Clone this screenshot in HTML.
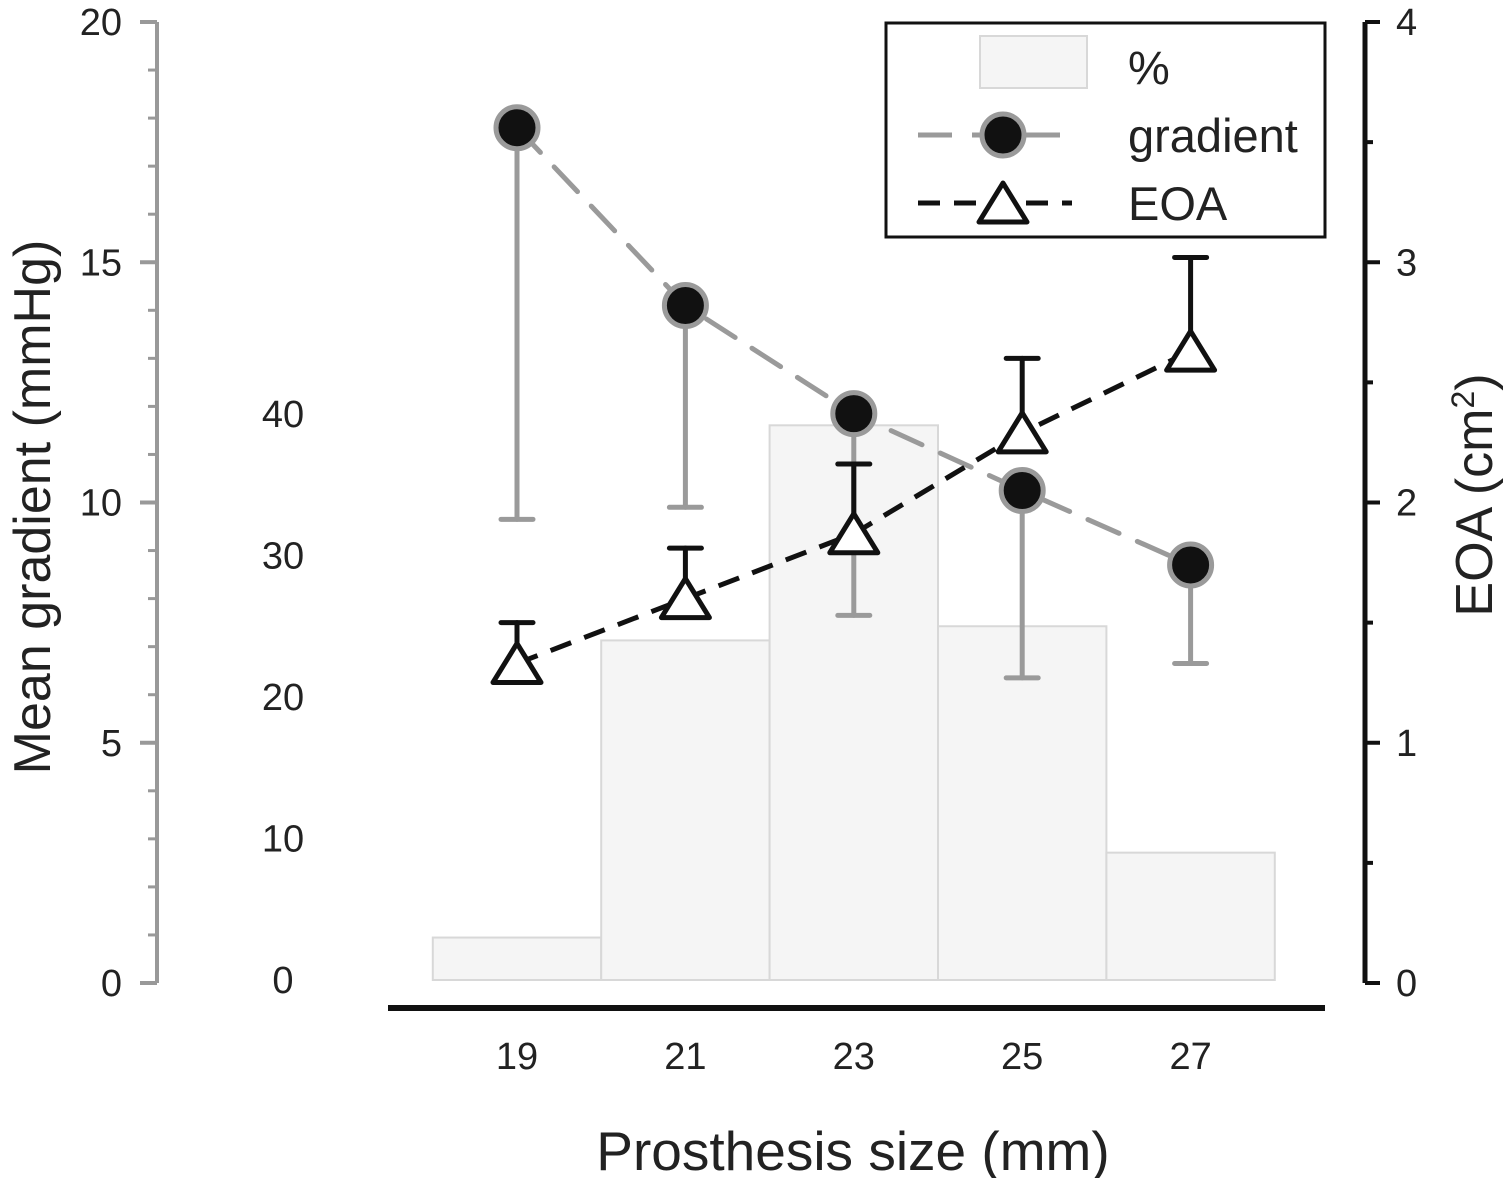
<!DOCTYPE html>
<html><head><meta charset="utf-8"><style>
html,body{margin:0;padding:0;background:#fff;}
svg{display:block;font-family:"Liberation Sans",Arial,sans-serif;}
</style></head><body>
<svg id="chart" width="1503" height="1178" viewBox="0 0 1503 1178"></svg>
<script>
const sizes = [19, 21, 23, 25, 27];
const percent = [3, 24, 39.2, 25, 9];
const gradient = [17.8, 14.1, 11.85, 10.25, 8.7];
const gradientLow = [9.65, 9.9, 7.65, 6.35, 6.65];
const eoa = [1.33, 1.6, 1.87, 2.29, 2.63];
const eoaHigh = [1.5, 1.81, 2.16, 2.6, 3.02];
const gradTicks = [0, 5, 10, 15, 20];
const eoaTicks = [0, 1, 2, 3, 4];
const pctTicks = [0, 10, 20, 30, 40];

const NS = "http://www.w3.org/2000/svg";
const svg = document.getElementById('chart');
function mk(tag, attrs, parent){const e=document.createElementNS(NS,tag);for(const k in attrs)e.setAttribute(k,attrs[k]);(parent||svg).appendChild(e);return e;}
const xS = v => 517 + (v - 19) * 84.2;
const yG = v => 983 - v * 48.05;
const yE = v => 983 - v * 240.25;
const yP = v => 980 - v * 14.15;

percent.forEach((p,i)=>{
  const r = mk('rect',{x:xS(sizes[i])-84.2,y:yP(p),width:168.4,height:980-yP(p),fill:'#f5f5f5',stroke:'#d8d8d8','stroke-width':2});
  
  
});
pctTicks.forEach(t=>{
  const tx = mk('text',{x:283,y:yP(t)+13,'font-size':38,'text-anchor':'middle',fill:'#222'});
  tx.textContent=t;
  
  
});
const la = mk('line',{x1:157,y1:yG(20),x2:157,y2:yG(0),stroke:'#999','stroke-width':4});


for(let v=0; v<=20; v++){
  const major = v%5===0;
  mk('line',{x1:major?140:148,y1:yG(v),x2:157,y2:yG(v),stroke:'#999','stroke-width':major?4:3});
}
gradTicks.forEach(t=>{
  const tx = mk('text',{x:122,y:yG(t)+13,'font-size':38,'text-anchor':'end',fill:'#222'});
  tx.textContent=t;
  
  
});
const ra = mk('line',{x1:1365,y1:yE(4),x2:1365,y2:yE(0),stroke:'#111','stroke-width':5});


for(let v=0; v<=8; v++){
  const major = v%2===0;
  mk('line',{x1:1365,y1:yE(v/2),x2:major?1380:1373,y2:yE(v/2),stroke:'#111','stroke-width':4});
}
eoaTicks.forEach(t=>{
  const tx = mk('text',{x:1396,y:yE(t)+13,'font-size':38,'text-anchor':'start',fill:'#222'});
  tx.textContent=t;
  
  
});
const xa = mk('line',{x1:388,y1:1008,x2:1325,y2:1008,stroke:'#111','stroke-width':6});


sizes.forEach(s=>{
  const tx = mk('text',{x:xS(s),y:1069,'font-size':38,'text-anchor':'middle',fill:'#222'});
  tx.textContent=s;
  
  
});
const xt = mk('text',{x:853,y:1170,'font-size':55,'text-anchor':'middle',fill:'#222'});
xt.textContent='Prosthesis size (mm)';


const lt = mk('text',{x:0,y:0,'font-size':52,'text-anchor':'middle',fill:'#222',transform:'translate(50,507) rotate(-90)'});
lt.textContent='Mean gradient (mmHg)';


const rt = mk('text',{x:0,y:0,'font-size':52,'text-anchor':'middle',fill:'#222',transform:'translate(1492,495) rotate(-90)'});
rt.innerHTML='EOA (cm<tspan font-size="32" dy="-18">2</tspan><tspan dy="18">)</tspan>';



sizes.forEach((s,i)=>{
  const g = mk('g',{stroke:'#9a9a9a','stroke-width':5,'stroke-linecap':'round'});
  
  
  mk('line',{x1:xS(s),y1:yG(gradient[i]),x2:xS(s),y2:yG(gradientLow[i])},g);
  mk('line',{x1:xS(s)-16,y1:yG(gradientLow[i]),x2:xS(s)+16,y2:yG(gradientLow[i])},g);
});
const gl = mk('polyline',{points:sizes.map((s,i)=>xS(s)+','+yG(gradient[i])).join(' '),fill:'none',stroke:'#9a9a9a','stroke-width':5,'stroke-dasharray':'34 20','stroke-linecap':'round'});


sizes.forEach((s,i)=>{
  const g = mk('g',{stroke:'#111','stroke-width':5,'stroke-linecap':'round'});
  
  
  mk('line',{x1:xS(s),y1:yE(eoa[i]),x2:xS(s),y2:yE(eoaHigh[i])},g);
  mk('line',{x1:xS(s)-16,y1:yE(eoaHigh[i]),x2:xS(s)+16,y2:yE(eoaHigh[i])},g);
});
const el2 = mk('polyline',{points:sizes.map((s,i)=>xS(s)+','+yE(eoa[i])).join(' '),fill:'none',stroke:'#111','stroke-width':5,'stroke-dasharray':'22 14'});


sizes.forEach((s,i)=>{
  const c = mk('circle',{cx:xS(s),cy:yG(gradient[i]),r:21,fill:'#111',stroke:'#9a9a9a','stroke-width':5});
  
  
});
function tri(cx,cy){return (cx)+','+(cy-20)+' '+(cx-24)+','+(cy+19)+' '+(cx+24)+','+(cy+19);}
sizes.forEach((s,i)=>{
  const t = mk('polygon',{points:tri(xS(s),yE(eoa[i])),fill:'#fff',stroke:'#111','stroke-width':5,'stroke-linejoin':'round'});
  
  
});
const lg = mk('g',{});


mk('rect',{x:886,y:23,width:439,height:214,fill:'#fff',stroke:'#111','stroke-width':3},lg);
mk('rect',{x:980,y:36,width:107,height:52,fill:'#f5f5f5',stroke:'#d8d8d8','stroke-width':2},lg);
mk('line',{x1:918,y1:135,x2:1070,y2:135,stroke:'#9a9a9a','stroke-width':5,'stroke-dasharray':'34 20'},lg);
mk('circle',{cx:1003,cy:135,r:21,fill:'#111',stroke:'#9a9a9a','stroke-width':5},lg);
mk('line',{x1:918,y1:203,x2:1072,y2:203,stroke:'#111','stroke-width':5,'stroke-dasharray':'22 14'},lg);
mk('polygon',{points:tri(1003,203),fill:'#fff',stroke:'#111','stroke-width':5,'stroke-linejoin':'round'},lg);
[['%',84],['gradient',152],['EOA',220]].forEach(([t,y])=>{
  const tx = mk('text',{x:1128,y:y,'font-size':47,fill:'#222'},lg);
  tx.textContent=t;
  
  
});
</script>
</body></html>
